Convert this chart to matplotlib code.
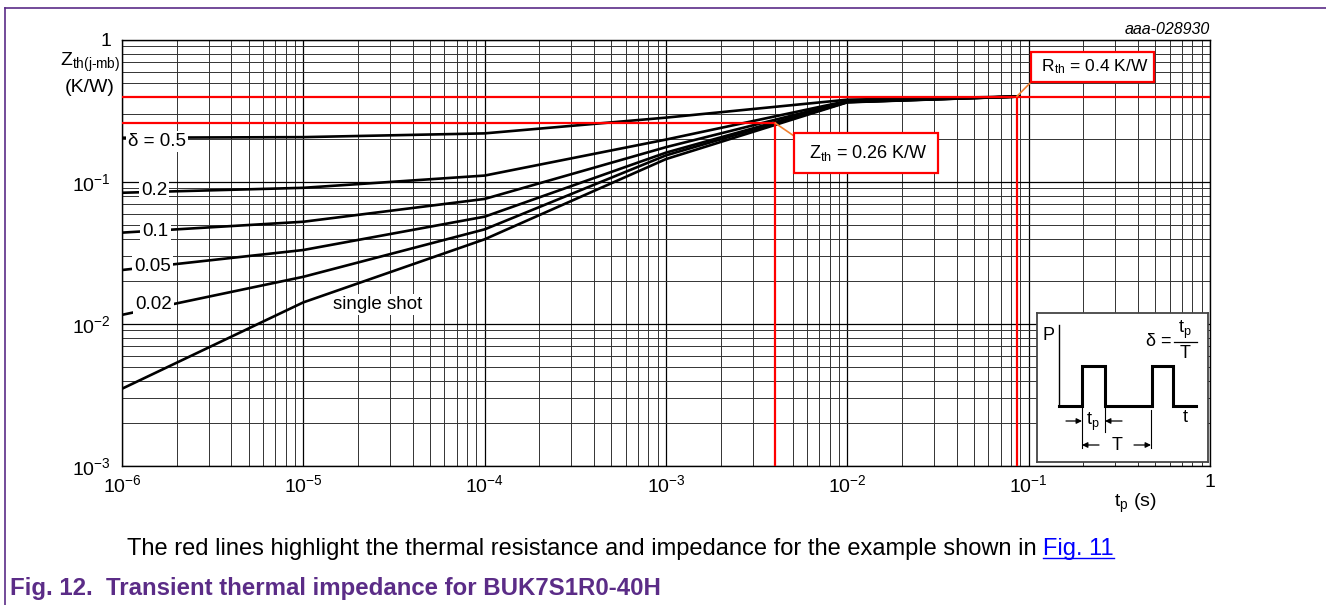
import numpy as np
import matplotlib
matplotlib.use('Agg')
import matplotlib.pyplot as plt
from matplotlib.ticker import LogLocator, FuncFormatter, NullFormatter
from matplotlib.lines import Line2D

plt.rcParams['font.family'] = ['Liberation Sans', 'DejaVu Sans']
plt.rcParams['mathtext.fontset'] = 'custom'
plt.rcParams['mathtext.rm'] = 'Liberation Sans'
plt.rcParams['mathtext.it'] = 'Liberation Sans:italic'
plt.rcParams['mathtext.bf'] = 'Liberation Sans:bold'

# pulse duration tp (s) and Zth(j-mb) (K/W) per duty cycle
tp = [1e-6, 1e-5, 1e-4, 1e-3, 1e-2, 0.09]
z_05 = [0.205, 0.207, 0.220, 0.284, 0.380, 0.40]
z_02 = [0.084, 0.091, 0.111, 0.199, 0.372, 0.40]
z_01 = [0.044, 0.0525, 0.076, 0.176, 0.368, 0.40]
z_005 = [0.024, 0.0332, 0.057, 0.161, 0.366, 0.40]
z_002 = [0.0116, 0.0215, 0.0464, 0.154, 0.365, 0.40]
z_single = [0.0035, 0.0142, 0.0395, 0.145, 0.364, 0.40]

curves = [z_05, z_02, z_01, z_005, z_002, z_single]
curve_labels = ['δ = 0.5', '0.2', '0.1', '0.05', '0.02', 'single shot']
label_x = [1.56e-6, 1.5e-6, 1.53e-6, 1.47e-6, 1.49e-6, 2.58e-5]
label_y = [0.194, 0.087, 0.045, 0.0255, 0.0137, 0.0137]

# example highlighted in red
rth = 0.4
zth = 0.26
tp_zth = 0.004
tp_rth = 0.086

W, H = 1326, 605
fig = plt.figure(figsize=(W / 100, H / 100), dpi=100)
ax = fig.add_axes([122 / W, 1 - 466 / H, 1088 / W, 426 / H])
ax.set_xscale('log')
ax.set_yscale('log')
ax.set_xlim(1e-6, 1)
ax.set_ylim(1e-3, 1)

ax.xaxis.set_major_locator(LogLocator(base=10, numticks=20))
ax.xaxis.set_minor_locator(LogLocator(base=10, subs=np.arange(2, 10), numticks=100))
ax.yaxis.set_major_locator(LogLocator(base=10, numticks=20))
ax.yaxis.set_minor_locator(LogLocator(base=10, subs=np.arange(2, 10), numticks=100))


def fmt(v, pos):
    e = int(round(np.log10(v)))
    if e == 0:
        return '1'
    return r'$\mathregular{10^{%d}}$' % e


ax.xaxis.set_major_formatter(FuncFormatter(fmt))
ax.yaxis.set_major_formatter(FuncFormatter(fmt))
ax.xaxis.set_minor_formatter(NullFormatter())
ax.yaxis.set_minor_formatter(NullFormatter())
ax.tick_params(which='both', length=0, labelsize=14)
ax.tick_params(axis='x', pad=6)
ax.tick_params(axis='y', pad=8)
ax.grid(which='major', color='black', lw=0.9)
ax.grid(which='minor', color='#333333', lw=0.7)
ax.set_axisbelow(True)
for s in ax.spines.values():
    s.set_color('black')
    s.set_linewidth(1.0)

for z in curves:
    ax.plot(tp, z, color='black', lw=1.9, zorder=3, solid_capstyle='butt')

for lab, lx, ly in zip(curve_labels, label_x, label_y):
    ax.text(lx, ly, lab, fontsize=13.5, ha='center', va='center', zorder=5,
            bbox=dict(facecolor='white', edgecolor='none', pad=1.5))

# red highlight lines
ax.axhline(rth, color='#ff0000', lw=1.6, zorder=4)
ax.plot([1e-6, tp_zth], [zth, zth], color='#ff0000', lw=1.6, zorder=4)
ax.plot([tp_zth, tp_zth], [1e-3, zth], color='#ff0000', lw=1.6, zorder=4)
ax.plot([tp_rth, tp_rth], [1e-3, rth], color='#ff0000', lw=1.6, zorder=4)

ax.annotate(r' R$_{\mathregular{th}}$ = 0.4 K/W ', xy=(tp_rth, rth), xytext=(0.225, 0.645),
            fontsize=12.5, ha='center', va='center', zorder=6,
            bbox=dict(boxstyle='square,pad=0.35', facecolor='white', edgecolor='#ff0000', lw=1.6),
            arrowprops=dict(arrowstyle='-', color='#f08030', lw=1.2, relpos=(0, 0),
                            shrinkA=0, shrinkB=0))
ax.annotate(r' Z$_{\mathregular{th}}$ = 0.26 K/W ', xy=(tp_zth, zth), xytext=(0.0127, 0.16),
            fontsize=13, ha='center', va='center', zorder=6,
            bbox=dict(boxstyle='square,pad=0.55', facecolor='white', edgecolor='#ff0000', lw=1.6),
            arrowprops=dict(arrowstyle='-', color='#f08030', lw=1.2, relpos=(0, 1),
                            shrinkA=0, shrinkB=0))

# axis titles
fig.text(90 / W, 1 - 62 / H, r'Z$_{\mathregular{th(j\text{-}mb)}}$', fontsize=14, ha='center', va='center')
fig.text(90 / W, 1 - 88 / H, '(K/W)', fontsize=14, ha='center', va='center')
fig.text(1135 / W, 1 - 503 / H, r't$_{\mathregular{p}}$ (s)', fontsize=14, ha='center', va='center')
fig.text(1210 / W, 1 - 30 / H, 'aaa-028930', fontsize=11.5, style='italic', ha='right', va='center')

# inset: pulse diagram
ins = fig.add_axes([1037 / W, 1 - 462 / H, 171 / W, 149 / H])
ins.set_xlim(0, 171)
ins.set_ylim(149, 0)
ins.set_xticks([])
ins.set_yticks([])
for s in ins.spines.values():
    s.set_color('#444444')
    s.set_linewidth(1.3)
wave_x = [22, 45, 45, 68, 68, 115, 115, 136, 136, 159]
wave_y = [93, 93, 53, 53, 93, 93, 53, 53, 93, 93]
ins.plot(wave_x, wave_y, color='black', lw=2.2, solid_joinstyle='miter')
ins.plot([22, 22], [12, 93], color='black', lw=1.0)
ins.text(11, 22, 'P', fontsize=13, ha='center', va='center')
ins.text(148, 105, 't', fontsize=13, ha='center', va='center')
ins.plot([45, 45], [93, 135], color='black', lw=0.8)
ins.plot([68, 68], [93, 119], color='black', lw=0.8)
ins.plot([114, 114], [97, 135], color='black', lw=0.8)
arr = dict(arrowstyle='-|>', color='black', lw=0.9, mutation_scale=8, shrinkA=0, shrinkB=0)
ins.annotate('', xy=(45, 108), xytext=(29, 108), arrowprops=arr)
ins.annotate('', xy=(68, 108), xytext=(85, 108), arrowprops=arr)
ins.text(56, 109, r't$_{\mathregular{p}}$', fontsize=13, ha='center', va='center')
ins.annotate('', xy=(45, 132), xytext=(62, 132), arrowprops=arr)
ins.annotate('', xy=(114, 132), xytext=(97, 132), arrowprops=arr)
ins.text(80, 133, 'T', fontsize=13, ha='center', va='center')
ins.text(122, 29, 'δ =', fontsize=13, ha='center', va='center')
ins.plot([137, 160], [29, 29], color='black', lw=0.9)
ins.text(148, 17, r't$_{\mathregular{p}}$', fontsize=13, ha='center', va='center')
ins.text(148, 41, 'T', fontsize=13, ha='center', va='center')

# page frame
purple = '#5b2c87'
fig.add_artist(Line2D([5 / W, 1], [1 - 8 / H, 1 - 8 / H], color=purple, lw=1.2))
fig.add_artist(Line2D([5 / W, 5 / W], [0, 1 - 8 / H], color=purple, lw=1.2))

# captions
cap = fig.text(127 / W, 1 - 555 / H,
               'The red lines highlight the thermal resistance and impedance for the example shown in ',
               fontsize=17, ha='left', va='baseline')
fig.canvas.draw()
bb = cap.get_window_extent()
link = fig.text(bb.x1 / W, 1 - 555 / H, 'Fig. 11', fontsize=17, color='#0000ff',
                ha='left', va='baseline')
fig.canvas.draw()
lb = link.get_window_extent()
fig.add_artist(Line2D([lb.x0 / W, lb.x1 / W], [(1 - 558 / H), (1 - 558 / H)],
                      color='#0000ff', lw=1.0))
fig.text(10 / W, 1 - 595 / H, 'Fig. 12.  Transient thermal impedance for BUK7S1R0-40H',
         fontsize=17.3, fontweight='bold', color=purple, ha='left', va='baseline')

fig.savefig('out.png', dpi=100)
